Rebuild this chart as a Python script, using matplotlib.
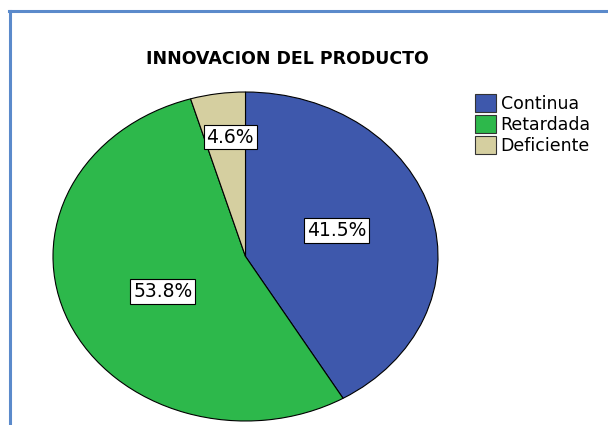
import numpy as np
import matplotlib
matplotlib.use("Agg")
import matplotlib.pyplot as plt
from matplotlib.lines import Line2D

plt.rcParams['font.family'] = ['DejaVu Sans']

# data
categories = ["Continua", "Retardada", "Deficiente"]
percents = [41.5, 53.8, 4.6]
colors = ["#3E58AC", "#2DB84B", "#D5CFA0"]
# label placement: radius and small angle shift (deg) from wedge middle
label_dist = [0.5, 0.48, 0.73]
label_shift = [3, 3, -2]

W, H = 608, 425
fig = plt.figure(figsize=(W / 100, H / 100), dpi=100)

# pie area (ellipse, so aspect is left free)
ax = fig.add_axes([53 / W, 4 / H, 385 / W, 329 / H])
wedges, _ = ax.pie(percents, colors=colors, startangle=90, counterclock=False,
                   wedgeprops=dict(edgecolor="black", linewidth=0.8))
ax.set_aspect("auto")
ax.set_xlim(-1, 1)
ax.set_ylim(-1, 1)
ax.axis("off")

for w, p, d, s in zip(wedges, percents, label_dist, label_shift):
    ang = np.deg2rad((w.theta1 + w.theta2) / 2 + s)
    ax.text(d * np.cos(ang), d * np.sin(ang), f"{p:.1f}%", ha="center", va="center",
            fontsize=13.5,
            bbox=dict(boxstyle="square,pad=0.15", facecolor="white", edgecolor="black", linewidth=0.8))

fig.text(287 / W, 1 - 59 / H, "INNOVACION DEL PRODUCTO", ha="center", va="center",
         fontsize=12.5, fontweight="bold")

leg = fig.legend(wedges, categories, loc="upper left", bbox_to_anchor=(472 / W, 1 - 91 / H),
                 frameon=False, fontsize=12.5, handlelength=1.2, handleheight=1.2,
                 handletextpad=0.25, labelspacing=0.12, borderpad=0.2, borderaxespad=0)
for h in leg.legend_handles:
    h.set_edgecolor("#333333")

# blue frame on the left and top
frame = "#5B8ACB"
fig.add_artist(Line2D([10 / W, 10 / W], [0, 1 - 11 / H], color=frame, linewidth=2.2,
                      transform=fig.transFigure))
fig.add_artist(Line2D([9 / W, 1], [1 - 11 / H, 1 - 11 / H], color=frame, linewidth=2.2,
                      transform=fig.transFigure))

fig.savefig("out.png", dpi=100, facecolor="white")
